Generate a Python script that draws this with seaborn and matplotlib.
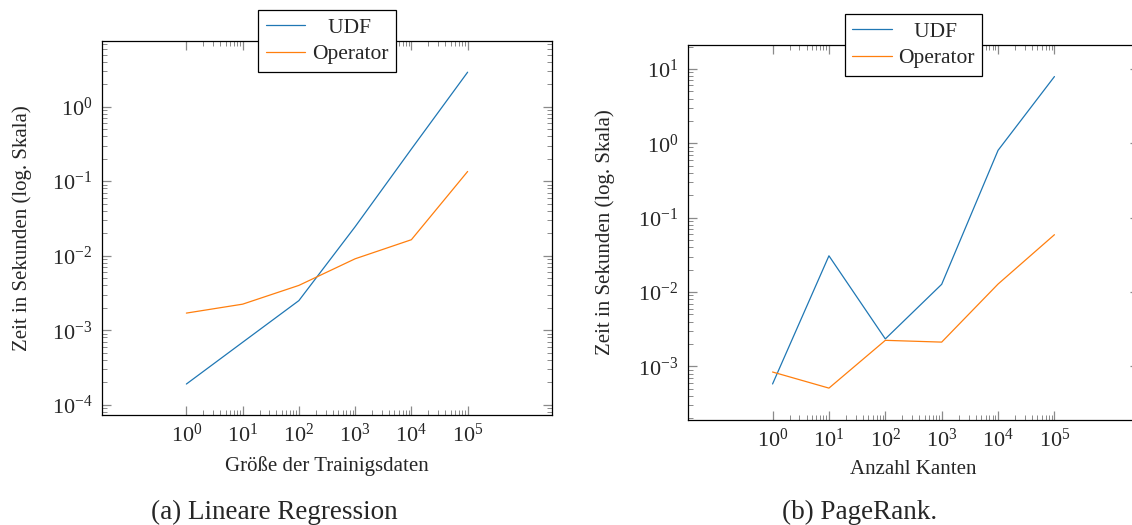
import numpy as np
import pandas as pd
import seaborn as sns
import matplotlib.pyplot as plt
import matplotlib.ticker as mtick

# values (seconds, log scale)
sizes = [1, 10, 100, 1000, 10000, 100000]
series = ["UDF", "Operator"]
lr_udf = [1.9e-4, 6.9e-4, 2.5e-3, 0.0245, 0.27, 2.9]
lr_op = [1.7e-3, 2.24e-3, 4.0e-3, 9.1e-3, 0.0164, 0.135]
pr_udf = [5.8e-4, 0.0307, 2.34e-3, 0.0127, 0.805, 7.9]
pr_op = [8.4e-4, 5.1e-4, 2.24e-3, 2.12e-3, 0.0128, 0.059]

ylabel = "Zeit in Sekunden (log. Skala)"
xlabels = ["Größe der Trainigsdaten", "Anzahl Kanten"]
captions = ["(a) Lineare Regression", "(b) PageRank."]
colors = ["#1f77b4", "#ff7f0e"]

sns.set_theme(style="ticks")
plt.rcParams["font.family"] = ["Liberation Serif", "DejaVu Serif"]
plt.rcParams["mathtext.fontset"] = "stix"


def long_df(udf, op):
    return pd.DataFrame({
        "n": sizes * 2,
        "t": udf + op,
        "Variante": [series[0]] * len(sizes) + [series[1]] * len(sizes),
    })


fig = plt.figure(figsize=(11.32, 5.25), dpi=100)
ax1 = fig.add_axes([102 / 1132, 1 - 415 / 525, 450 / 1132, 374 / 525])
ax2 = fig.add_axes([688 / 1132, 1 - 420 / 525, 451 / 1132, 375 / 525])

minor_x = [k * s for s in sizes[:-1] for k in range(2, 10)]

panels = [
    (ax1, long_df(lr_udf, lr_op), (7.3e-5, 7.6), -0.156, -0.11),
    (ax2, long_df(pr_udf, pr_op), (1.9e-4, 21), -0.162, -0.107),
]

for i, (ax, df, ylim, ylx, xly) in enumerate(panels):
    sns.lineplot(data=df, x="n", y="t", hue="Variante", palette=colors,
                 linewidth=0.9, legend=False, ax=ax)
    ax.set_xscale("log")
    ax.set_yscale("log")
    ax.set_xlim(10 ** -1.5, 10 ** 6.5)
    ax.set_ylim(*ylim)

    ax.xaxis.set_major_locator(mtick.FixedLocator(sizes))
    ax.xaxis.set_minor_locator(mtick.FixedLocator(minor_x))
    ax.xaxis.set_minor_formatter(mtick.NullFormatter())
    ax.yaxis.set_major_locator(mtick.LogLocator(base=10, numticks=20))
    ax.yaxis.set_minor_locator(mtick.LogLocator(base=10, subs=np.arange(2, 10), numticks=20))
    ax.yaxis.set_minor_formatter(mtick.NullFormatter())

    ax.tick_params(which="both", direction="in", top=True, right=True,
                   color="#8a8a8a", labelsize=16)
    ax.tick_params(which="major", length=6.8, width=0.9)
    ax.tick_params(which="minor", length=3.8, width=0.7)
    ax.tick_params(axis="x", which="major", pad=6)
    ax.tick_params(axis="y", which="major", pad=7)

    for sp in ax.spines.values():
        sp.set_color("black")
        sp.set_linewidth(0.9)

    ax.set_ylabel(ylabel, fontsize=15)
    ax.set_xlabel(xlabels[i], fontsize=15)
    ax.yaxis.set_label_coords(ylx, 0.5)
    ax.xaxis.set_label_coords(0.5, xly)

    leg = ax.legend(ax.get_lines()[:2], ["   " + series[0], series[1]],
                    loc="center", bbox_to_anchor=(0.5, 1.0), fontsize=15.5,
                    frameon=True, fancybox=False, handlelength=1.85,
                    handletextpad=0.3, borderpad=0.35, labelspacing=0.3,
                    borderaxespad=0)
    leg.get_frame().set_edgecolor("black")
    leg.get_frame().set_linewidth(0.9)
    leg.get_frame().set_alpha(1)

fig.text(274 / 1132, 1 - 512 / 525, captions[0], ha="center", va="center", fontsize=19.5)
fig.text(860 / 1132, 1 - 512 / 525, captions[1], ha="center", va="center", fontsize=19.5)

fig.savefig("out.png", dpi=100)
